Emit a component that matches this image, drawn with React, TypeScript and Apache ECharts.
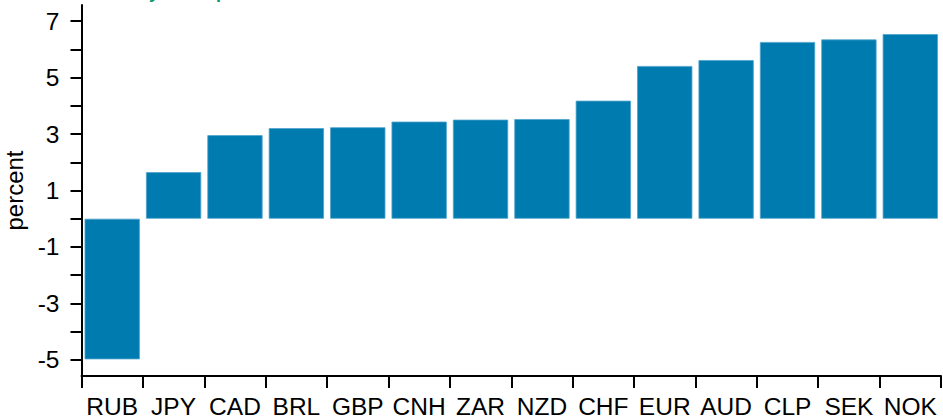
import React, { useEffect, useRef } from "react";
import * as echarts from "echarts";

const currencies = ["RUB", "JPY", "CAD", "BRL", "GBP", "CNH", "ZAR", "NZD", "CHF", "EUR", "AUD", "CLP", "SEK", "NOK"];
const changes = [-4.98, 1.65, 2.96, 3.21, 3.24, 3.44, 3.51, 3.53, 4.18, 5.41, 5.62, 6.26, 6.35, 6.54];
const yTicks = [-5, -4, -3, -2, -1, 0, 1, 2, 3, 4, 5, 6, 7];
const yLabels = [-5, -3, -1, 1, 3, 5, 7];
const yAxisName = "percent";
const titleText = "Currency index performance";

export default function App() {
  const ref = useRef<HTMLDivElement>(null);
  useEffect(() => {
    if (!ref.current) return;
    const chart = echarts.init(ref.current, null, { renderer: "svg" });
    const font = "Liberation Sans, Arial, sans-serif";
    chart.setOption({
      animation: false,
      backgroundColor: "#ffffff",
      textStyle: { fontFamily: font },
      graphic: [
        {
          type: "text",
          left: 80,
          top: -17,
          style: {
            text: titleText,
            fill: "#0a9a6a",
            font: "bold 18px " + font,
          },
        },
      ],
      grid: { left: 81.5, right: 2, top: 5, bottom: 43, containLabel: false, outerBoundsMode: "none" },
      xAxis: {
        type: "category",
        data: currencies,
        position: "bottom",
        axisLine: { show: true, onZero: false, lineStyle: { color: "#000", width: 2 } },
        axisTick: { show: true, length: 12, lineStyle: { color: "#000", width: 2 } },
        axisLabel: { color: "#000", fontSize: 24.5, margin: 18, fontFamily: font, interval: 0 },
      },
      yAxis: {
        type: "value",
        min: -5.57,
        max: 7.57,
        name: yAxisName,
        nameLocation: "middle",
        nameRotate: 90,
        nameGap: 53,
        nameTextStyle: { color: "#000", fontSize: 24, fontFamily: font },
        splitLine: { show: false },
        axisLine: { show: true, lineStyle: { color: "#000", width: 2 } },
        axisTick: { show: true, length: 11, customValues: yTicks, lineStyle: { color: "#000", width: 2 } },
        axisLabel: { color: "#000", fontSize: 24.5, margin: 22, fontFamily: font, customValues: yLabels },
      },
      series: [
        {
          type: "bar",
          data: changes,
          barCategoryGap: "10%",
          itemStyle: { color: "#007bb0", borderColor: "#4fa3cc", borderWidth: 0.8 },
        },
      ],
    });
    return () => chart.dispose();
  }, []);
  return <div ref={ref} style={{ position: "fixed", left: 0, top: 0, width: 943, height: 419 }} />;
}
